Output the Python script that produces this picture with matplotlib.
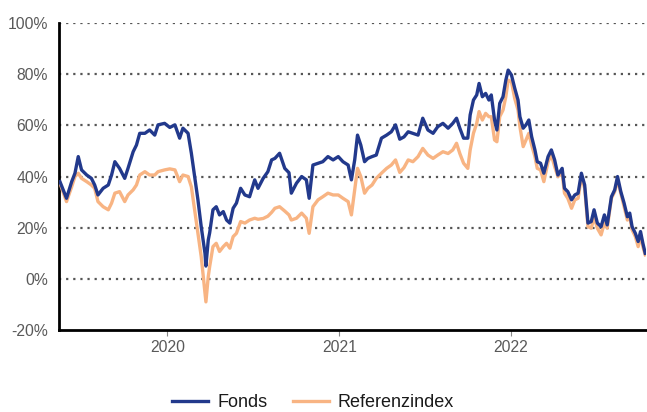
import pandas as pd
import matplotlib
matplotlib.use('Agg')
import matplotlib.pyplot as plt
import matplotlib.dates as mdates
from matplotlib.ticker import FuncFormatter

plt.rcParams['font.family'] = ['Liberation Sans', 'DejaVu Sans']

# Werte (Wertentwicklung in %)
dates = [
    '2019-05-17', '2019-05-31', '2019-06-11', '2019-06-18', '2019-06-25', '2019-07-02', '2019-07-13',
    '2019-07-23', '2019-07-30', '2019-08-06', '2019-08-17', '2019-08-28', '2019-09-04', '2019-09-11',
    '2019-09-21', '2019-10-02', '2019-10-09', '2019-10-20', '2019-10-27', '2019-11-03', '2019-11-14',
    '2019-11-24', '2019-12-05', '2019-12-12', '2019-12-26', '2020-01-06', '2020-01-17', '2020-01-27',
    '2020-02-03', '2020-02-14', '2020-02-21', '2020-02-28', '2020-03-06', '2020-03-13', '2020-03-21',
    '2020-03-23', '2020-03-28', '2020-03-31', '2020-04-07', '2020-04-14', '2020-04-21', '2020-04-29',
    '2020-05-06', '2020-05-13', '2020-05-20', '2020-05-27', '2020-06-05', '2020-06-14', '2020-06-24',
    '2020-07-05', '2020-07-12', '2020-07-23', '2020-08-02', '2020-08-10', '2020-08-17', '2020-08-27',
    '2020-09-07', '2020-09-16', '2020-09-21', '2020-10-02', '2020-10-13', '2020-10-23', '2020-10-29',
    '2020-11-06', '2020-11-17', '2020-11-27', '2020-12-08', '2020-12-19', '2020-12-30', '2021-01-09',
    '2021-01-20', '2021-01-27', '2021-02-03', '2021-02-09', '2021-02-16', '2021-02-24', '2021-03-03',
    '2021-03-12', '2021-03-21', '2021-04-01', '2021-04-12', '2021-04-22', '2021-05-01', '2021-05-10',
    '2021-05-19', '2021-05-28', '2021-06-07', '2021-06-18', '2021-06-28', '2021-07-09', '2021-07-20',
    '2021-07-30', '2021-08-10', '2021-08-21', '2021-08-31', '2021-09-08', '2021-09-15', '2021-09-23',
    '2021-10-02', '2021-10-07', '2021-10-14', '2021-10-21', '2021-10-26', '2021-11-02', '2021-11-09',
    '2021-11-16', '2021-11-21', '2021-11-28', '2021-12-03', '2021-12-09', '2021-12-16', '2021-12-22',
    '2021-12-27', '2022-01-03', '2022-01-10', '2022-01-17', '2022-01-21', '2022-01-28', '2022-02-03',
    '2022-02-09', '2022-02-15', '2022-02-22', '2022-02-27', '2022-03-06', '2022-03-13', '2022-03-22',
    '2022-03-29', '2022-04-05', '2022-04-12', '2022-04-21', '2022-04-26', '2022-05-03', '2022-05-11',
    '2022-05-18', '2022-05-25', '2022-06-01', '2022-06-08', '2022-06-15', '2022-06-22', '2022-06-28',
    '2022-07-05', '2022-07-13', '2022-07-20', '2022-07-26', '2022-08-04', '2022-08-11', '2022-08-17',
    '2022-08-24', '2022-08-31', '2022-09-07', '2022-09-12', '2022-09-17', '2022-09-24', '2022-09-30',
    '2022-10-05', '2022-10-10', '2022-10-15',
]

fonds = [
    38.0, 31.5, 38.0, 41.3, 47.8, 42.6, 40.6, 39.3, 36.7, 32.8, 35.4, 36.7, 40.6, 45.8,
    43.2, 39.3, 43.2, 49.7, 52.3, 56.9, 56.9, 58.2, 56.2, 60.2, 60.8, 59.2, 60.2, 55.0,
    58.9, 56.9, 49.1, 40.0, 30.9, 20.4, 10.0, 5.0, 15.2, 18.0, 27.0, 28.2, 25.0, 26.3,
    23.0, 21.8, 27.6, 29.6, 35.4, 32.8, 32.1, 38.7, 35.4, 39.3, 41.9, 46.5, 47.1, 49.1,
    43.2, 41.5, 33.5, 37.4, 40.0, 38.7, 31.5, 44.5, 45.2, 45.8, 47.8, 46.5, 47.8, 45.8,
    44.5, 38.7, 46.5, 56.2, 52.3, 45.8, 47.1, 47.8, 48.4, 55.0, 56.2, 57.5, 60.2, 54.6,
    55.5, 57.5, 56.9, 56.2, 62.8, 58.2, 56.9, 59.5, 60.8, 58.9, 60.8, 62.8, 58.9, 55.0,
    55.0, 64.1, 69.9, 71.9, 76.4, 71.2, 72.5, 69.9, 71.9, 62.1, 58.2, 68.6, 71.2, 77.7,
    81.6, 79.7, 74.5, 69.9, 63.4, 58.9, 60.2, 62.1, 55.6, 50.4, 45.8, 45.2, 41.3, 47.8,
    50.4, 46.5, 40.6, 43.2, 35.4, 34.1, 30.9, 32.8, 33.5, 41.3, 36.7, 21.8, 22.4, 27.0,
    21.8, 20.4, 25.0, 21.1, 32.1, 34.8, 40.0, 34.1, 29.6, 24.3, 25.7, 20.4, 17.8, 14.6,
    18.5, 13.9, 10.0,
]

referenz = [
    37.4, 30.2, 36.0, 40.0, 41.3, 39.3, 38.0, 36.7, 35.4, 30.2, 28.2, 27.0, 29.6, 33.5,
    34.1, 30.2, 32.8, 34.8, 36.7, 40.6, 41.9, 40.6, 40.6, 41.9, 42.6, 43.0, 42.6, 38.0,
    40.6, 40.0, 36.0, 27.0, 17.8, 8.7, -5.6, -9.0, 0.9, 4.8, 12.6, 13.9, 10.7, 12.6,
    13.9, 12.0, 16.5, 17.8, 22.4, 21.8, 23.0, 23.7, 23.3, 23.6, 24.5, 26.0, 27.6, 28.2,
    26.5, 25.0, 23.0, 23.7, 25.7, 23.7, 17.8, 28.2, 30.9, 32.1, 33.5, 32.8, 32.8, 31.5,
    30.2, 25.0, 34.8, 43.2, 40.0, 33.5, 35.4, 36.7, 39.3, 41.3, 43.2, 44.5, 46.5, 41.6,
    43.5, 46.5, 45.8, 47.8, 51.0, 48.4, 47.1, 48.4, 49.7, 49.0, 50.4, 53.0, 49.0, 45.2,
    43.2, 50.4, 56.9, 60.8, 65.4, 62.1, 64.7, 63.4, 63.4, 54.3, 53.6, 63.4, 66.0, 71.2,
    77.7, 77.0, 70.5, 66.0, 59.5, 51.7, 54.3, 56.9, 52.3, 47.8, 43.2, 42.6, 38.0, 45.8,
    48.4, 43.9, 40.0, 41.3, 33.5, 31.5, 27.6, 30.9, 31.5, 40.0, 35.4, 20.4, 19.8, 24.3,
    19.8, 17.2, 21.8, 19.8, 31.5, 34.1, 38.7, 33.5, 28.2, 23.0, 24.3, 19.2, 16.5, 12.6,
    17.2, 12.6, 9.4,
]

x = pd.to_datetime(dates)

fig = plt.figure(figsize=(6.47, 4.12), dpi=100)
ax = fig.add_axes([0.0912, 0.199, 0.9075, 0.745])

ax.plot(x, referenz, color='#f8b483', lw=2.4, label='Referenzindex', zorder=3)
ax.plot(x, fonds, color='#22398c', lw=2.4, label='Fonds', zorder=4)

ax.set_ylim(-20, 100)
ax.set_yticks(range(-20, 101, 20))
ax.yaxis.set_major_formatter(FuncFormatter(lambda v, p: f'{v:.0f}%'))
ax.set_xlim(pd.Timestamp('2019-05-15'), pd.Timestamp('2022-10-17'))
ax.xaxis.set_major_locator(mdates.YearLocator())
ax.xaxis.set_major_formatter(mdates.DateFormatter('%Y'))

for v in range(0, 101, 20):
    ax.axhline(v, color='#555555', lw=1.6, ls=(0, (1, 2.2)), zorder=1)

for s in ['top', 'right']:
    ax.spines[s].set_visible(False)
for s in ['left', 'bottom']:
    ax.spines[s].set_linewidth(2.0)
    ax.spines[s].set_color('black')

ax.tick_params(axis='y', length=0, pad=8, labelsize=11.3, labelcolor='#595959')
ax.tick_params(axis='x', length=4, width=0.8, color='#888888', pad=3,
               labelsize=11.3, labelcolor='#595959')

handles, labels = ax.get_legend_handles_labels()
fig.legend(handles[::-1], labels[::-1], loc='center', bbox_to_anchor=(0.484, 0.022),
           ncol=2, frameon=False, fontsize=13, handlelength=2.0, columnspacing=1.4,
           handletextpad=0.5, labelcolor='#1a1a1a')

fig.savefig('out.png', dpi=100)
